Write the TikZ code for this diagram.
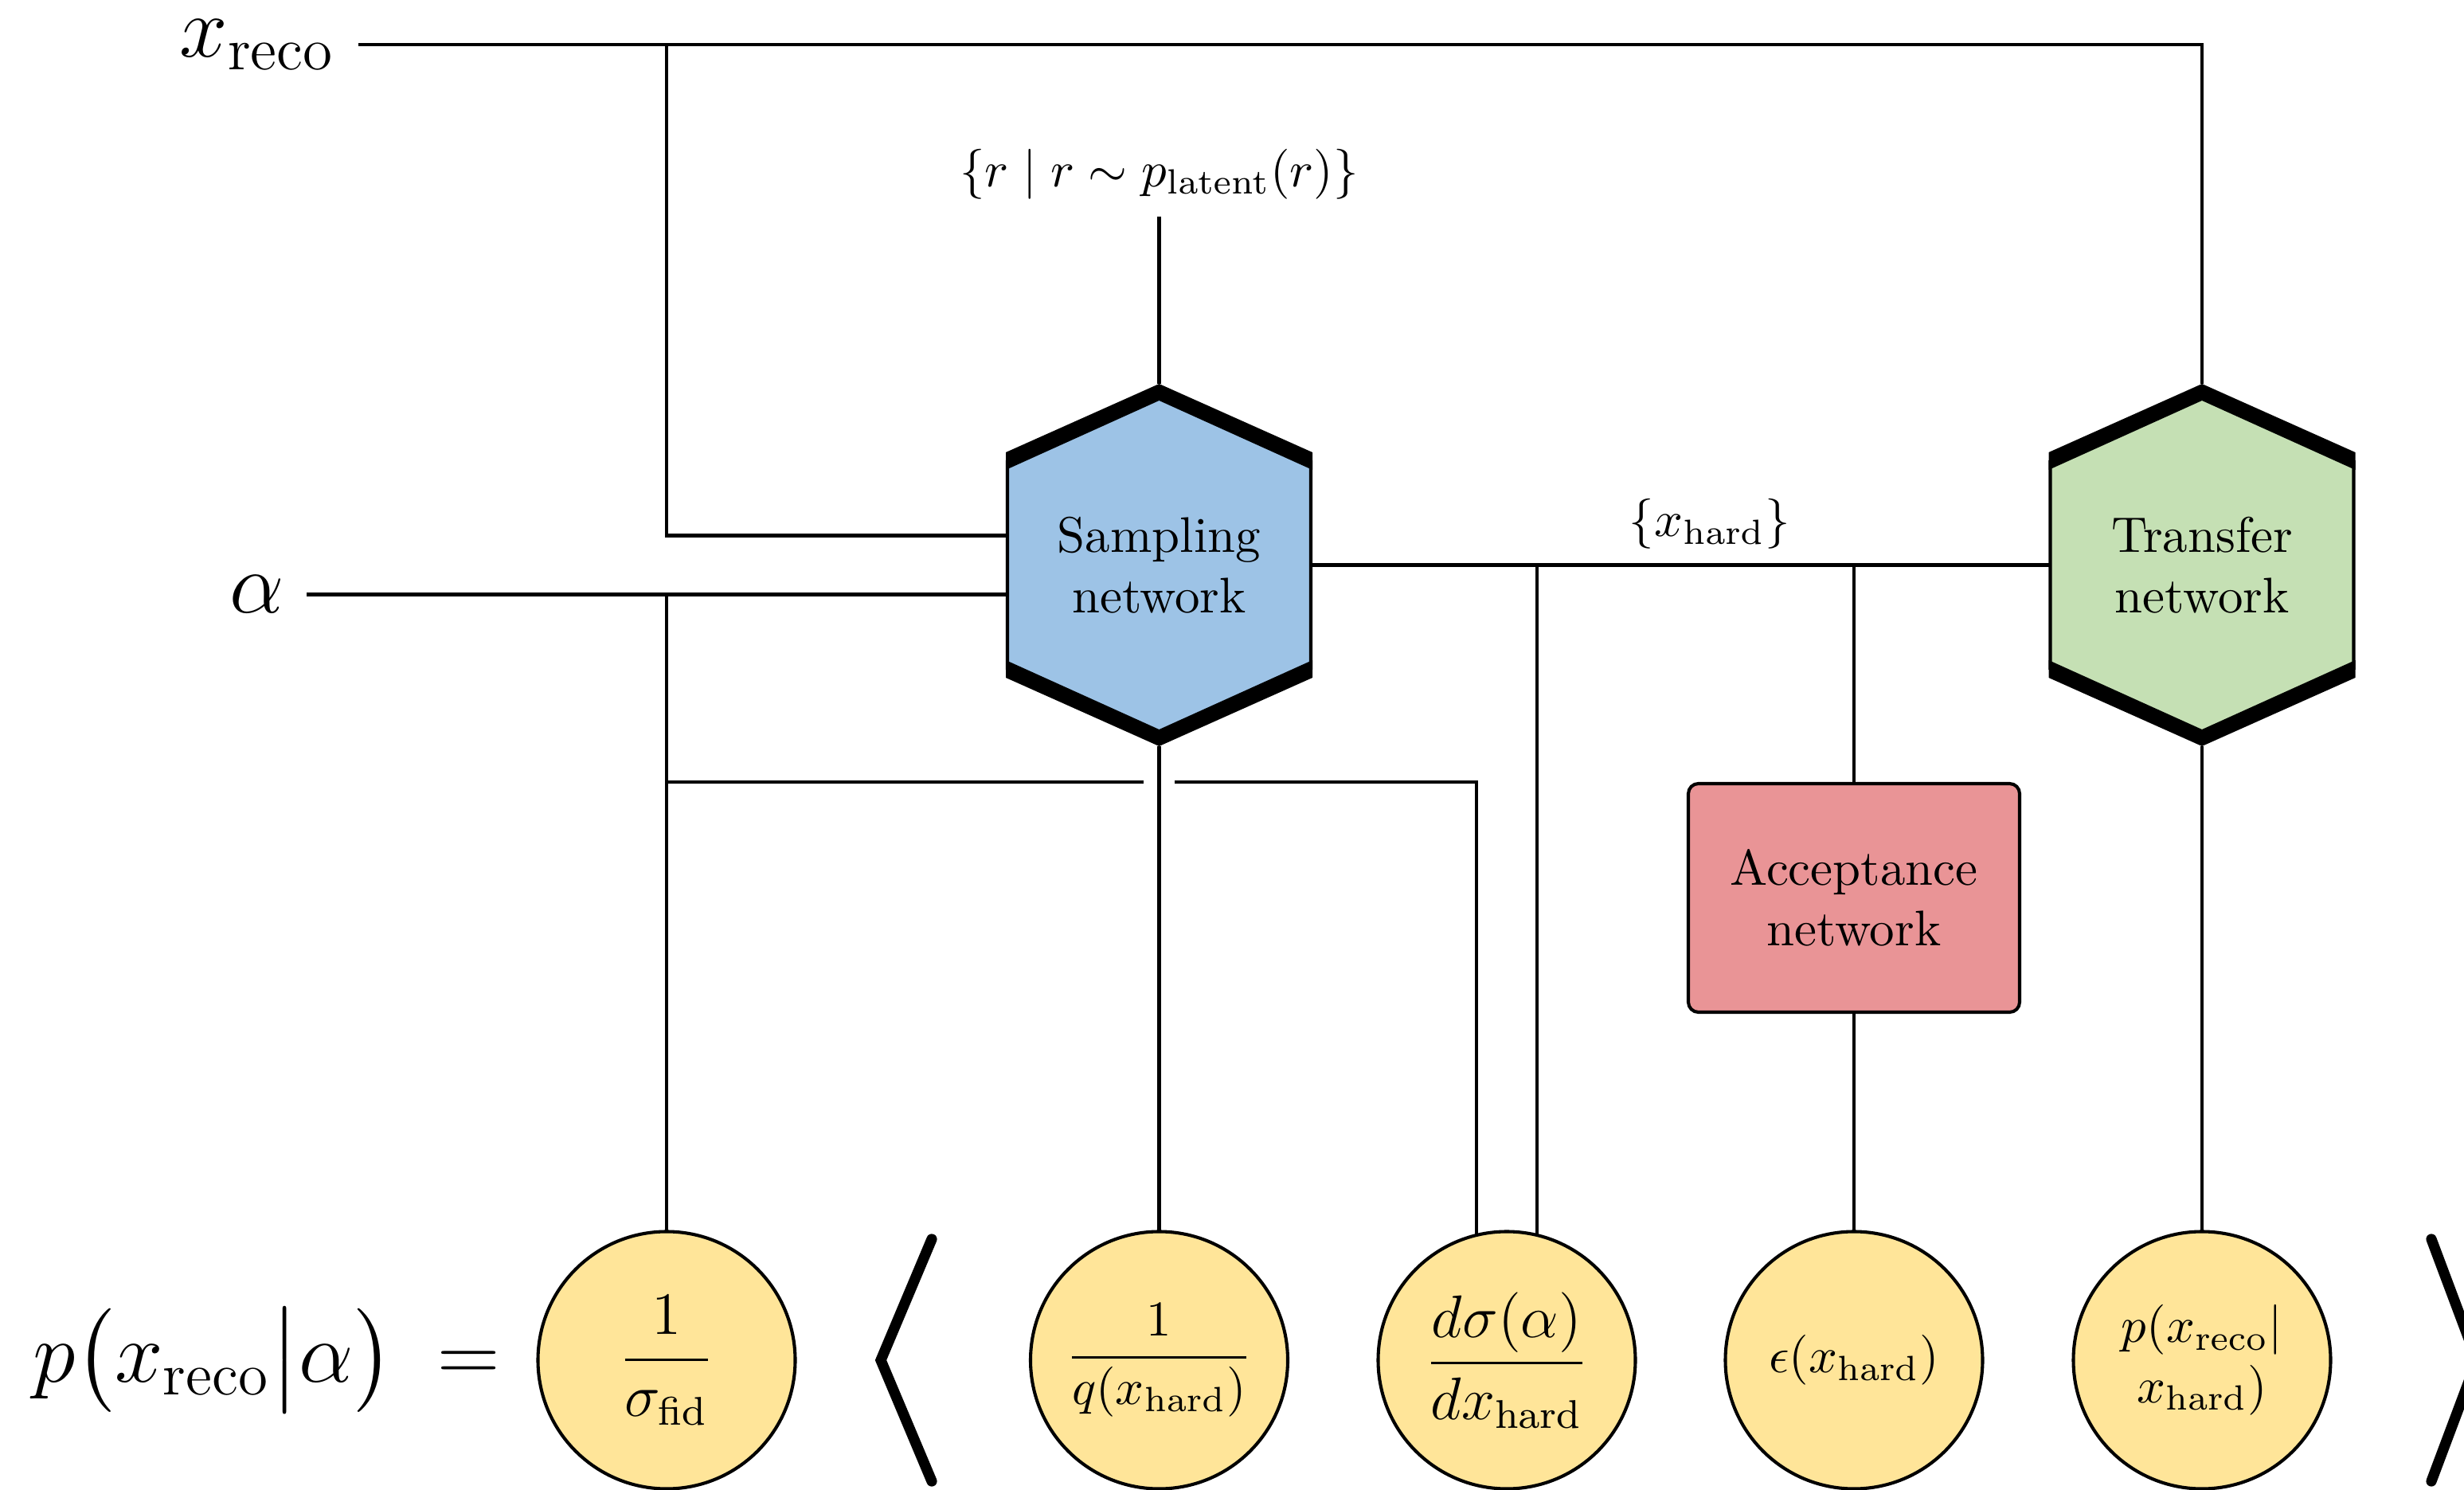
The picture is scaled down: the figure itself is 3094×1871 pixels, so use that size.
\documentclass[tikz,border=0pt]{standalone}
\usepackage{amsmath}
\usetikzlibrary{calc}
\pgfdeclarelayer{bg}
\pgfdeclarelayer{mid}
\pgfsetlayers{bg,mid,main}
\definecolor{sampblue}{RGB}{157,195,230}
\definecolor{transgreen}{RGB}{197,224,180}
\definecolor{accred}{RGB}{233,148,150}
\definecolor{outyellow}{RGB}{255,229,153}
\tikzset{
  conn/.style={line width=0.65pt},
  hexnode/.style={align=center, minimum width=385*0.159pt, minimum height=455*0.159pt, inner sep=0pt, outer sep=0pt},
  outnode/.style={circle, draw, line width=0.65pt, fill=outyellow, minimum size=323*0.159pt, inner sep=0pt, outer sep=0pt},
  accbox/.style={rectangle, rounded corners=2pt, draw, line width=0.65pt, fill=accred, align=center, minimum width=416*0.159pt, minimum height=287*0.159pt, outer sep=0pt},
  biglabel/.style={font=\fontsize{17.3}{20}\selectfont},
  eqlabel/.style={font=\fontsize{16.8}{20}\selectfont},
  bracket/.style={line width=2.1pt, line cap=round, line join=miter},
}
\newcommand{\hexshape}[2]{%
  \begin{scope}[shift={(#1.center)}]
    \filldraw[fill=#2, line width=0.65pt] (-190.5,-130) -- (0,-217) -- (190.5,-130) -- (190.5,130) -- (0,217) -- (-190.5,130) -- cycle;
    \fill (-192.5,-141.5) -- (0,-227.5) -- (192.5,-141.5) -- (192.5,-119.5) -- (0,-206.5) -- (-192.5,-119.5) -- cycle;
    \fill (-192.5,141.5) -- (0,227.5) -- (192.5,141.5) -- (192.5,119.5) -- (0,206.5) -- (-192.5,119.5) -- cycle;
  \end{scope}}
\begin{document}
\begin{tikzpicture}[x=0.159pt, y=-0.159pt]
\path[use as bounding box, clip] (0,0) rectangle (3094,1871);

% labels
\node[biglabel, anchor=east, inner xsep=4.45pt, inner ysep=0pt] (xr) at (450,56) {$x_{\mathrm{reco}}$};
\node[biglabel, anchor=east, inner xsep=4.3pt, inner ysep=0pt] (al) at (385,746.5) {$\alpha$};
\node[anchor=south, inner sep=3.3pt] (lat) at (1455.5,272) {$\{r\mid r\sim p_{\mathrm{latent}}(r)\}$};
\node[anchor=south, inner sep=3pt] (xh) at (2147,709.5) {$\{x_{\mathrm{hard}}\}$};

% networks
\node[hexnode] (samp) at (1455.5,709.5) {Sampling\\network};
\node[hexnode] (trans) at (2765,709.5) {Transfer\\network};
\node[accbox] (acc) at (2328,1127.5) {Acceptance\\network};

% outputs
\node[eqlabel, anchor=west, inner sep=0pt] (eq) at (40,1708) {$p\bigl(x_{\mathrm{reco}}\big|\alpha\bigr)\hspace{4pt}=$};
\node[outnode, font=\large] (sig) at (837,1708) {$\dfrac{1}{\sigma_{\mathrm{fid}}}$};
\node[outnode] (q) at (1455.5,1708) {$\dfrac{1}{q(x_{\mathrm{hard}})}$};
\node[outnode, font=\large] (dsig) at (1892,1708) {$\dfrac{d\sigma(\alpha)}{dx_{\mathrm{hard}}}$};
\node[outnode] (eps) at (2328,1708) {$\epsilon(x_{\mathrm{hard}})$};
\node[outnode, align=center] (pr) at (2765,1708) {$p(x_{\mathrm{reco}}|$\\$x_{\mathrm{hard}})$};

% angle brackets
\draw[bracket] (1170,1556) -- (1106,1708) -- (1170,1860);
\draw[bracket] (3053,1556) -- (3110,1708) -- (3053,1860);

\begin{pgfonlayer}{mid}
  \hexshape{samp}{sampblue}
  \hexshape{trans}{transgreen}
\end{pgfonlayer}

\begin{pgfonlayer}{bg}
  \coordinate (sin1) at ($(samp.west)+(0,-37)$);
  \coordinate (sin2) at ($(samp.west)+(0,37)$);
  \coordinate (gapL) at (1436,982);
  \coordinate (gapR) at (1475,982);
  \coordinate (dsL) at ($(dsig.center)+(-38,0)$);
  \coordinate (dsR) at ($(dsig.center)+(38,0)$);
  \draw[conn] (xr.east) -| (trans.north);
  \draw[conn] (xr.east -| sig.north) |- (sin1);
  \draw[conn] (al.east) -- (sin2);
  \draw[conn] (al.east -| sig.north) -- (sig.center);
  \draw[conn] (gapL -| sig.north) -- (gapL);
  \draw[conn] (gapR) -| (dsL);
  \draw[conn] (samp.north) -- (lat.south);
  \draw[conn] (samp.south) -- (q.center);
  \draw[conn] (samp.east) -- (trans.west);
  \draw[conn] (dsR |- samp.east) -- (dsR);
  \draw[conn] (acc.north |- samp.east) -- (acc.north);
  \draw[conn] (acc.south) -- (eps.center);
  \draw[conn] (trans.south) -- (pr.center);
\end{pgfonlayer}
\end{tikzpicture}
\end{document}
